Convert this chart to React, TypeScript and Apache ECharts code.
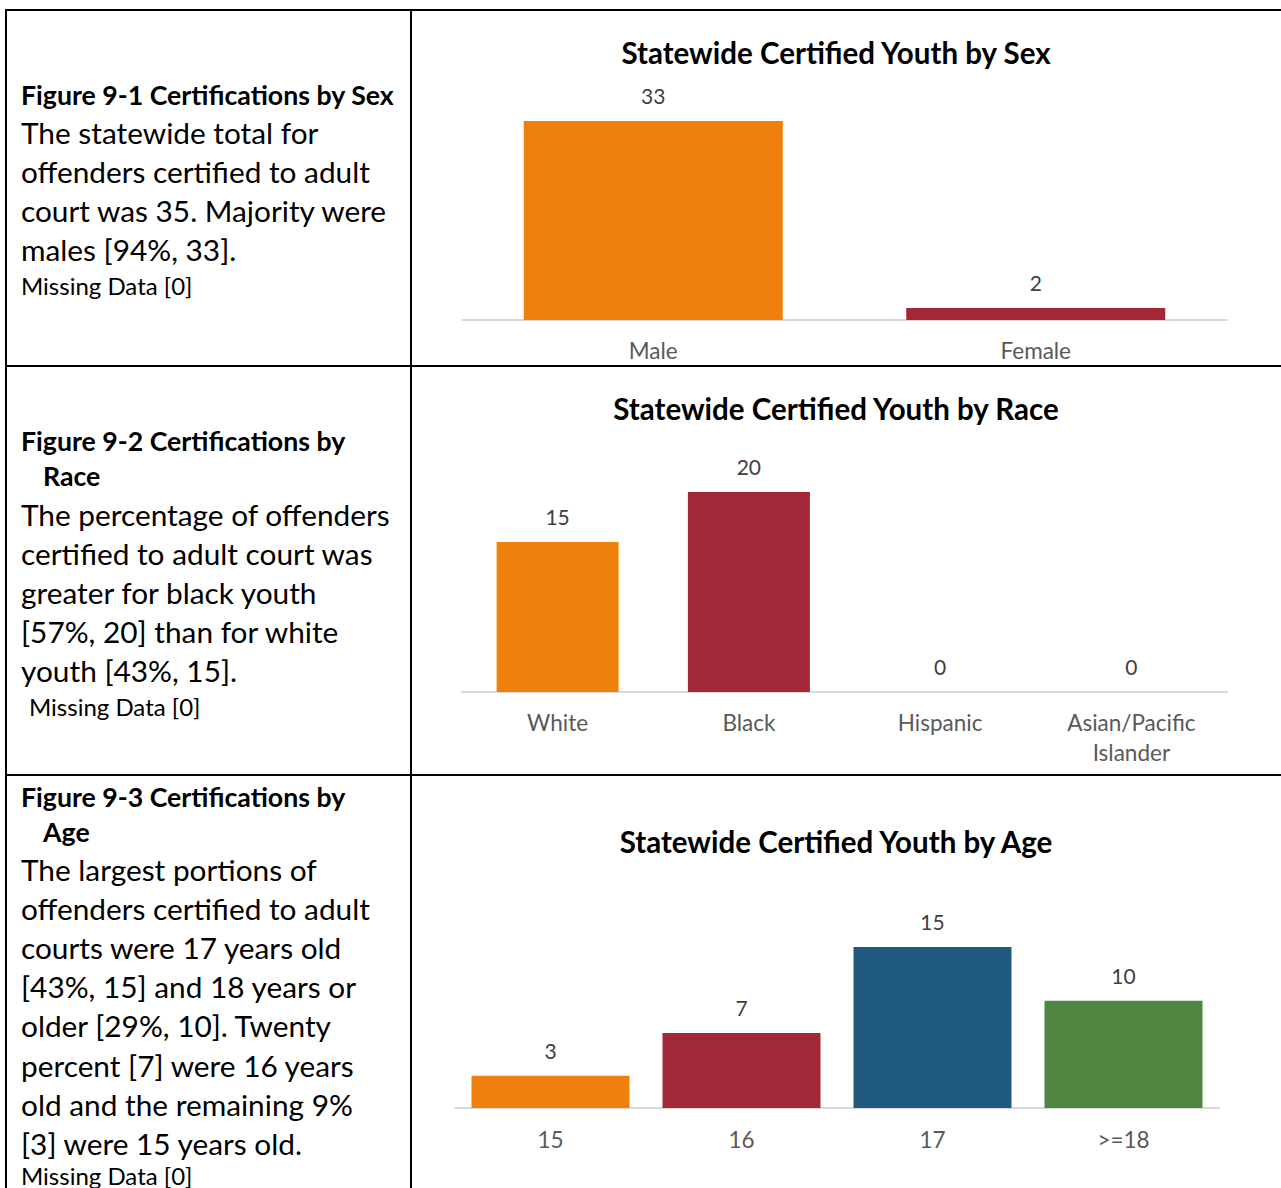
import React, { useEffect, useRef } from "react";
import * as echarts from "echarts";

const sexCategories = ["Male", "Female"];
const sexValues = [33, 2];
const sexColors = ["#F0800C", "#A22838"];

const raceCategories = ["White", "Black", "Hispanic", "Asian/Pacific\nIslander"];
const raceValues = [15, 20, 0, 0];
const raceColors = ["#F0800C", "#A22838", "#1F5A7E", "#4F8743"];

const ageCategories = ["15", "16", "17", ">=18"];
const ageValues = [3, 7, 15, 10];
const ageColors = ["#F0800C", "#A22838", "#1F5A7E", "#4F8743"];

const chartTitles = [
  "Statewide Certified Youth by Sex",
  "Statewide Certified Youth by Race",
  "Statewide Certified Youth by Age",
];

const cell1Heading = ["Figure 9-1 Certifications by Sex"];
const cell1Body = [
  "The statewide total for",
  "offenders certified to adult",
  "court was 35. Majority were",
  "males [94%, 33].",
];
const cell2Heading = ["Figure 9-2 Certifications by", "Race"];
const cell2Body = [
  "The percentage of offenders",
  "certified to adult court was",
  "greater for black youth",
  "[57%, 20] than for white",
  "youth [43%, 15].",
];
const cell3Heading = ["Figure 9-3 Certifications by", "Age"];
const cell3Body = [
  "The largest portions of",
  "offenders certified to adult",
  "courts were 17 years old",
  "[43%, 15] and 18 years or",
  "older [29%, 10]. Twenty",
  "percent [7] were 16 years",
  "old and the remaining 9%",
  "[3] were 15 years old.",
];
const missingText = "Missing Data [0]";

const FONT = "Lato, 'Noto Sans', sans-serif";
const W = 1281;
const H = 1188;

export default function App() {
  const ref = useRef<HTMLDivElement>(null);

  useEffect(() => {
    if (!ref.current) return;
    document.body.style.margin = "0";
    const chart = echarts.init(ref.current, undefined, { renderer: "svg" });

    const textEl = (
      text: string,
      x: number,
      y: number,
      size: number,
      weight: string = "normal",
      fill: string = "#000",
      align: string = "left"
    ) => ({
      type: "text",
      x,
      y,
      silent: true,
      style: {
        text,
        fontSize: size,
        fontWeight: weight,
        fontFamily: FONT,
        fill,
        align,
        verticalAlign: "middle",
        textAlign: align,
        textVerticalAlign: "middle",
      },
    });

    const lineEl = (x1: number, y1: number, x2: number, y2: number) => ({
      type: "line",
      silent: true,
      shape: { x1, y1, x2, y2 },
      style: { stroke: "#000", lineWidth: 2 },
    });

    const BODY = 29.8;
    const HEAD = 26.7;
    const MISS = 24;
    const TITLE = 29.5;
    const graphics: any[] = [];
    // table lines
    graphics.push(lineEl(6, 10, W, 10));
    graphics.push(lineEl(6, 366, W, 366));
    graphics.push(lineEl(6, 775, W, 775));
    graphics.push(lineEl(6, 9, 6, H));
    graphics.push(lineEl(411, 9, 411, H));

    // cell 1
    graphics.push(textEl(cell1Heading[0], 21, 95, HEAD, "bold"));
    cell1Body.forEach((t, i) => graphics.push(textEl(t, 21, 132 + i * 39, BODY)));
    graphics.push(textEl(missingText, 21, 285, MISS));

    // cell 2
    graphics.push(textEl(cell2Heading[0], 21, 441, HEAD, "bold"));
    graphics.push(textEl(cell2Heading[1], 43, 476, HEAD, "bold"));
    cell2Body.forEach((t, i) => graphics.push(textEl(t, 21, 514 + i * 39, BODY)));
    graphics.push(textEl(missingText, 29, 706, MISS));

    // cell 3
    graphics.push(textEl(cell3Heading[0], 21, 797, HEAD, "bold"));
    graphics.push(textEl(cell3Heading[1], 43, 832, HEAD, "bold"));
    cell3Body.forEach((t, i) => graphics.push(textEl(t, 21, 869 + i * 39.2, BODY)));
    graphics.push(textEl(missingText, 21, 1175, MISS));

    // chart titles
    graphics.push(textEl(chartTitles[0], 836, 52, TITLE, "bold", "#000", "center"));
    graphics.push(textEl(chartTitles[1], 836, 408, TITLE, "bold", "#000", "center"));
    graphics.push(textEl(chartTitles[2], 836, 841, TITLE, "bold", "#000", "center"));

    const grids = [
      { left: 462, width: 765, top: 320 - 35 * 6.03, height: 35 * 6.03 },
      { left: 462, width: 765, top: 692 - 22 * 10, height: 22 * 10 },
      { left: 455, width: 764, top: 1108 - 16 * 10.73, height: 16 * 10.73 },
    ];
    const yMax = [35, 22, 16];
    const cats = [sexCategories, raceCategories, ageCategories];
    const vals = [sexValues, raceValues, ageValues];
    const cols = [sexColors, raceColors, ageColors];
    const barWidths = [259, 122, 158];
    const margins = [15, 15, 16];

    const option: any = {
      animation: false,
      backgroundColor: "#fff",
      grid: grids.map((g) => ({ ...g, containLabel: false })),
      xAxis: cats.map((c, i) => ({
        type: "category",
        gridIndex: i,
        data: c,
        axisLine: { show: true, lineStyle: { color: "#D9D9D9", width: 2 } },
        axisTick: { show: false },
        axisLabel: {
          color: "#595959",
          fontSize: 22.5,
          fontFamily: FONT,
          margin: margins[i],
          lineHeight: 30,
          interval: 0,
        },
      })),
      yAxis: cats.map((_, i) => ({
        type: "value",
        gridIndex: i,
        min: 0,
        max: yMax[i],
        show: false,
        splitLine: { show: false },
      })),
      series: vals.map((v, i) => ({
        type: "bar",
        xAxisIndex: i,
        yAxisIndex: i,
        barWidth: barWidths[i],
        data: v.map((val, j) => ({ value: val, itemStyle: { color: cols[i][j] } })),
        label: {
          show: true,
          position: "top",
          distance: 15,
          color: "#404040",
          fontSize: 21,
          fontFamily: FONT,
        },
      })),
      graphic: { elements: graphics },
    };

    chart.setOption(option);
    return () => chart.dispose();
  }, []);

  return (
    <div
      ref={ref}
      style={{ position: "absolute", left: 0, top: 0, width: W, height: H }}
    />
  );
}
